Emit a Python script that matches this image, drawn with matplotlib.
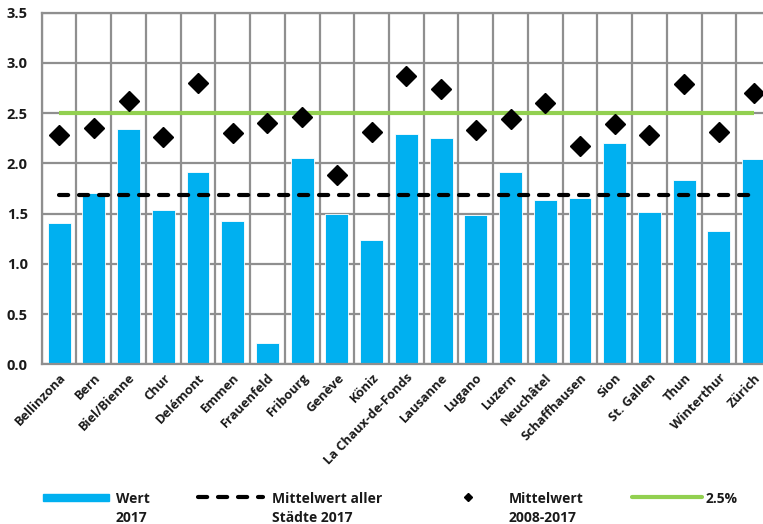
import matplotlib
matplotlib.use("Agg")
import matplotlib.pyplot as plt
from matplotlib.lines import Line2D
from matplotlib.patches import Rectangle
import numpy as np

cities = ["Bellinzona", "Bern", "Biel/Bienne", "Chur", "Delémont", "Emmen",
          "Frauenfeld", "Fribourg", "Genève", "Köniz", "La Chaux-de-Fonds",
          "Lausanne", "Lugano", "Luzern", "Neuchâtel", "Schaffhausen", "Sion",
          "St. Gallen", "Thun", "Winterthur", "Zürich"]
wert_2017 = [1.41, 1.71, 2.34, 1.535, 1.91, 1.43, 0.21, 2.05, 1.50, 1.24, 2.29,
             2.25, 1.485, 1.91, 1.635, 1.66, 2.20, 1.52, 1.83, 1.33, 2.04]
mittel_2008_2017 = [2.28, 2.35, 2.62, 2.26, 2.80, 2.30, 2.40, 2.46, 1.88, 2.31, 2.87,
                    2.74, 2.33, 2.44, 2.60, 2.175, 2.39, 2.28, 2.79, 2.31, 2.70]
mittel_aller_2017 = 1.69
ref_line = 2.5
yticks = [0.0, 0.5, 1.0, 1.5, 2.0, 2.5, 3.0, 3.5]

FONT = "Open Sans"
W, H = 763, 524
fig = plt.figure(figsize=(W / 100, H / 100), dpi=100)

left_px, right_px, top_px, bot_px = 41.7, 771.0, 12.7, 364.3
ax = fig.add_axes([left_px / W, 1 - bot_px / H, (right_px - left_px) / W, (bot_px - top_px) / H])

x = np.arange(len(cities))
grid_col = "#8f8f8f"
ax.set_axisbelow(True)
ax.bar(x, wert_2017, width=0.66, color="#00b0f0", edgecolor="white", linewidth=0.6, zorder=2)
ax.plot([x[0], x[-1]], [mittel_aller_2017] * 2, color="black", lw=3,
        dashes=(2.2, 2.6), dash_capstyle="round", zorder=3)
ax.plot([x[0], x[-1]], [ref_line] * 2, color="#92d050", lw=3, solid_capstyle="butt", zorder=3)
ax.plot(x, mittel_2008_2017, linestyle="none", marker="D", ms=10, color="black", zorder=4)

ax.set_xlim(-0.5, len(cities) - 0.5)
ax.set_ylim(0, 3.5)
ax.set_yticks(yticks)
ax.set_yticklabels([f"{v:.1f}" for v in yticks], fontfamily=FONT, fontweight="bold",
                   fontsize=10.5, color="#1a1a1a")
ax.set_xticks(x)
ax.set_xticklabels(cities, rotation=46, ha="right", va="top", rotation_mode="anchor",
                   fontfamily=FONT, fontweight="bold", fontsize=9.3, color="#1a1a1a")
ax.set_xticks(np.arange(-0.5, len(cities), 1), minor=True)
ax.tick_params(axis="both", which="both", length=0)
ax.tick_params(axis="y", pad=10)
ax.tick_params(axis="x", pad=5)
ax.grid(axis="y", which="major", color=grid_col, lw=1.6)
ax.grid(axis="x", which="minor", color=grid_col, lw=1.6)
for s in ax.spines.values():
    s.set_color(grid_col)
    s.set_linewidth(1.6)

# legend (figure pixel coordinates)
def fx(px):
    return px / W

def fy(py):
    return 1 - py / H

ly = 497
fig.add_artist(Rectangle((fx(43), fy(ly + 3.5)), fx(109) - fx(43), 7 / H,
                         transform=fig.transFigure, color="#00b0f0"))
fig.add_artist(Line2D([fx(198), fx(263)], [fy(ly), fy(ly)], transform=fig.transFigure,
                      color="black", lw=3, dashes=(2.2, 2.6), dash_capstyle="round"))
fig.add_artist(Line2D([fx(467.7)], [fy(ly)], transform=fig.transFigure, marker="D",
                      ms=4, color="black", linestyle="none"))
fig.add_artist(Line2D([fx(632), fx(702)], [fy(ly), fy(ly)], transform=fig.transFigure,
                      color="#92d050", lw=3, solid_capstyle="round"))
labels = [(116, "Wert\n2017"), (272, "Mittelwert aller\nStädte 2017"),
          (509, "Mittelwert\n2008-2017"), (706, "2.5%")]
for px, t in labels:
    fig.text(fx(px), fy(492), t, ha="left", va="top", fontfamily=FONT, fontweight="bold",
             fontsize=10, color="#1a1a1a", linespacing=1.45)

fig.savefig("out.png", dpi=100)
